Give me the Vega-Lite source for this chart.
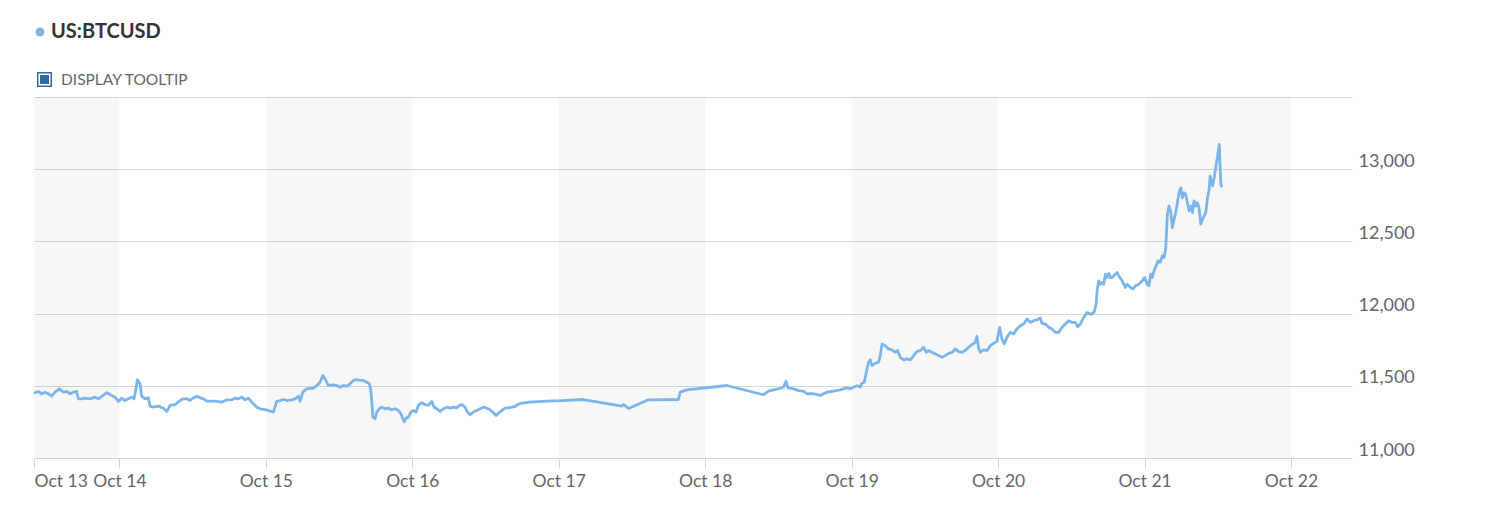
{
  "$schema": "https://vega.github.io/schema/vega-lite/v6.json",
  "width": 1318,
  "height": 361,
  "autosize": {"type": "none"},
  "padding": {"left": 34, "top": 97, "right": 133, "bottom": 59},
  "background": "white",
  "config": {"view": {"stroke": null}, "font": "Lato"},
  "datasets": {
    "bands": [
      {"start": "2020-10-13T10:00", "end": "2020-10-14T00:00"},
      {"start": "2020-10-15T00:00", "end": "2020-10-16T00:00"},
      {"start": "2020-10-17T00:00", "end": "2020-10-18T00:00"},
      {"start": "2020-10-19T00:00", "end": "2020-10-20T00:00"},
      {"start": "2020-10-21T00:00", "end": "2020-10-22T00:00"}
    ],
    "btc": [
      {"time": "2020-10-13T10:10", "price": 11452},
      {"time": "2020-10-13T10:42", "price": 11461},
      {"time": "2020-10-13T11:16", "price": 11445},
      {"time": "2020-10-13T11:48", "price": 11456},
      {"time": "2020-10-13T12:21", "price": 11445},
      {"time": "2020-10-13T12:54", "price": 11428},
      {"time": "2020-10-13T13:27", "price": 11456},
      {"time": "2020-10-13T14:09", "price": 11479},
      {"time": "2020-10-13T14:48", "price": 11456},
      {"time": "2020-10-13T15:22", "price": 11461},
      {"time": "2020-10-13T15:54", "price": 11445},
      {"time": "2020-10-13T16:27", "price": 11456},
      {"time": "2020-10-13T17:00", "price": 11461},
      {"time": "2020-10-13T17:16", "price": 11410},
      {"time": "2020-10-13T17:49", "price": 11410},
      {"time": "2020-10-13T18:22", "price": 11414},
      {"time": "2020-10-13T19:11", "price": 11410},
      {"time": "2020-10-13T20:00", "price": 11421},
      {"time": "2020-10-13T20:32", "price": 11410},
      {"time": "2020-10-13T21:06", "price": 11426},
      {"time": "2020-10-13T21:55", "price": 11452},
      {"time": "2020-10-13T22:44", "price": 11433},
      {"time": "2020-10-13T23:17", "price": 11421},
      {"time": "2020-10-13T23:49", "price": 11392},
      {"time": "2020-10-14T00:23", "price": 11414},
      {"time": "2020-10-14T00:55", "price": 11398},
      {"time": "2020-10-14T01:28", "price": 11410},
      {"time": "2020-10-14T02:01", "price": 11421},
      {"time": "2020-10-14T02:24", "price": 11410},
      {"time": "2020-10-14T02:43", "price": 11479},
      {"time": "2020-10-14T02:56", "price": 11543},
      {"time": "2020-10-14T03:23", "price": 11514},
      {"time": "2020-10-14T03:39", "price": 11428},
      {"time": "2020-10-14T04:12", "price": 11410},
      {"time": "2020-10-14T04:44", "price": 11417},
      {"time": "2020-10-14T05:01", "price": 11359},
      {"time": "2020-10-14T05:34", "price": 11352},
      {"time": "2020-10-14T06:23", "price": 11359},
      {"time": "2020-10-14T07:12", "price": 11345},
      {"time": "2020-10-14T07:46", "price": 11322},
      {"time": "2020-10-14T08:18", "price": 11364},
      {"time": "2020-10-14T09:07", "price": 11369},
      {"time": "2020-10-14T09:56", "price": 11398},
      {"time": "2020-10-14T10:29", "price": 11410},
      {"time": "2020-10-14T11:03", "price": 11410},
      {"time": "2020-10-14T11:35", "price": 11398},
      {"time": "2020-10-14T12:08", "price": 11417},
      {"time": "2020-10-14T12:41", "price": 11428},
      {"time": "2020-10-14T13:13", "price": 11417},
      {"time": "2020-10-14T13:46", "price": 11410},
      {"time": "2020-10-14T14:19", "price": 11394},
      {"time": "2020-10-14T15:08", "price": 11394},
      {"time": "2020-10-14T15:57", "price": 11392},
      {"time": "2020-10-14T16:46", "price": 11387},
      {"time": "2020-10-14T17:36", "price": 11403},
      {"time": "2020-10-14T18:25", "price": 11403},
      {"time": "2020-10-14T18:58", "price": 11414},
      {"time": "2020-10-14T19:30", "price": 11410},
      {"time": "2020-10-14T20:03", "price": 11421},
      {"time": "2020-10-14T20:35", "price": 11403},
      {"time": "2020-10-14T21:08", "price": 11414},
      {"time": "2020-10-14T21:41", "price": 11387},
      {"time": "2020-10-14T22:31", "price": 11352},
      {"time": "2020-10-14T23:03", "price": 11341},
      {"time": "2020-10-14T23:36", "price": 11336},
      {"time": "2020-10-15T00:25", "price": 11329},
      {"time": "2020-10-15T01:14", "price": 11318},
      {"time": "2020-10-15T01:47", "price": 11392},
      {"time": "2020-10-15T02:20", "price": 11398},
      {"time": "2020-10-15T02:52", "price": 11405},
      {"time": "2020-10-15T03:26", "price": 11398},
      {"time": "2020-10-15T04:15", "price": 11403},
      {"time": "2020-10-15T04:47", "price": 11410},
      {"time": "2020-10-15T05:20", "price": 11428},
      {"time": "2020-10-15T05:36", "price": 11392},
      {"time": "2020-10-15T06:03", "price": 11456},
      {"time": "2020-10-15T06:42", "price": 11479},
      {"time": "2020-10-15T07:15", "price": 11483},
      {"time": "2020-10-15T07:47", "price": 11483},
      {"time": "2020-10-15T08:21", "price": 11502},
      {"time": "2020-10-15T08:53", "price": 11525},
      {"time": "2020-10-15T09:20", "price": 11571},
      {"time": "2020-10-15T09:42", "price": 11548},
      {"time": "2020-10-15T10:15", "price": 11502},
      {"time": "2020-10-15T10:32", "price": 11505},
      {"time": "2020-10-15T11:04", "price": 11507},
      {"time": "2020-10-15T11:37", "price": 11502},
      {"time": "2020-10-15T12:10", "price": 11490},
      {"time": "2020-10-15T12:42", "price": 11502},
      {"time": "2020-10-15T13:16", "price": 11497},
      {"time": "2020-10-15T13:48", "price": 11514},
      {"time": "2020-10-15T14:21", "price": 11537},
      {"time": "2020-10-15T14:54", "price": 11543},
      {"time": "2020-10-15T15:27", "price": 11537},
      {"time": "2020-10-15T15:59", "price": 11537},
      {"time": "2020-10-15T16:33", "price": 11525},
      {"time": "2020-10-15T16:58", "price": 11514},
      {"time": "2020-10-15T17:12", "price": 11467},
      {"time": "2020-10-15T17:22", "price": 11387},
      {"time": "2020-10-15T17:32", "price": 11283},
      {"time": "2020-10-15T17:54", "price": 11272},
      {"time": "2020-10-15T18:11", "price": 11318},
      {"time": "2020-10-15T18:36", "price": 11341},
      {"time": "2020-10-15T19:00", "price": 11352},
      {"time": "2020-10-15T19:32", "price": 11341},
      {"time": "2020-10-15T20:05", "price": 11345},
      {"time": "2020-10-15T20:38", "price": 11334},
      {"time": "2020-10-15T21:11", "price": 11341},
      {"time": "2020-10-15T21:43", "price": 11329},
      {"time": "2020-10-15T22:07", "price": 11307},
      {"time": "2020-10-15T22:27", "price": 11272},
      {"time": "2020-10-15T22:40", "price": 11249},
      {"time": "2020-10-15T22:59", "price": 11276},
      {"time": "2020-10-15T23:22", "price": 11283},
      {"time": "2020-10-15T23:46", "price": 11318},
      {"time": "2020-10-16T00:11", "price": 11329},
      {"time": "2020-10-16T00:37", "price": 11318},
      {"time": "2020-10-16T01:00", "price": 11364},
      {"time": "2020-10-16T01:33", "price": 11383},
      {"time": "2020-10-16T02:06", "price": 11369},
      {"time": "2020-10-16T02:38", "price": 11364},
      {"time": "2020-10-16T03:12", "price": 11392},
      {"time": "2020-10-16T03:34", "price": 11352},
      {"time": "2020-10-16T04:01", "price": 11341},
      {"time": "2020-10-16T04:33", "price": 11322},
      {"time": "2020-10-16T05:06", "price": 11341},
      {"time": "2020-10-16T05:39", "price": 11352},
      {"time": "2020-10-16T06:12", "price": 11345},
      {"time": "2020-10-16T06:44", "price": 11352},
      {"time": "2020-10-16T07:18", "price": 11348},
      {"time": "2020-10-16T07:43", "price": 11364},
      {"time": "2020-10-16T08:07", "price": 11369},
      {"time": "2020-10-16T08:39", "price": 11352},
      {"time": "2020-10-16T09:02", "price": 11318},
      {"time": "2020-10-16T09:28", "price": 11300},
      {"time": "2020-10-16T10:01", "price": 11318},
      {"time": "2020-10-16T10:34", "price": 11329},
      {"time": "2020-10-16T11:07", "price": 11341},
      {"time": "2020-10-16T11:39", "price": 11352},
      {"time": "2020-10-16T12:13", "price": 11345},
      {"time": "2020-10-16T12:45", "price": 11334},
      {"time": "2020-10-16T13:18", "price": 11313},
      {"time": "2020-10-16T13:44", "price": 11295},
      {"time": "2020-10-16T14:07", "price": 11311},
      {"time": "2020-10-16T14:40", "price": 11329},
      {"time": "2020-10-16T15:13", "price": 11345},
      {"time": "2020-10-16T15:45", "price": 11348},
      {"time": "2020-10-16T16:19", "price": 11352},
      {"time": "2020-10-16T16:51", "price": 11357},
      {"time": "2020-10-16T17:08", "price": 11369},
      {"time": "2020-10-16T17:57", "price": 11380},
      {"time": "2020-10-16T19:19", "price": 11387},
      {"time": "2020-10-16T22:03", "price": 11394},
      {"time": "2020-10-17T00:46", "price": 11398},
      {"time": "2020-10-17T04:03", "price": 11405},
      {"time": "2020-10-17T10:21", "price": 11359},
      {"time": "2020-10-17T10:36", "price": 11371},
      {"time": "2020-10-17T11:26", "price": 11343},
      {"time": "2020-10-17T14:42", "price": 11403},
      {"time": "2020-10-17T19:37", "price": 11405},
      {"time": "2020-10-17T19:54", "price": 11456},
      {"time": "2020-10-17T21:00", "price": 11472},
      {"time": "2020-10-18T03:33", "price": 11502},
      {"time": "2020-10-18T09:33", "price": 11438},
      {"time": "2020-10-18T10:22", "price": 11463},
      {"time": "2020-10-18T11:12", "price": 11472},
      {"time": "2020-10-18T12:18", "price": 11483},
      {"time": "2020-10-18T12:50", "price": 11490},
      {"time": "2020-10-18T13:14", "price": 11532},
      {"time": "2020-10-18T13:33", "price": 11486},
      {"time": "2020-10-18T14:29", "price": 11479},
      {"time": "2020-10-18T15:18", "price": 11467},
      {"time": "2020-10-18T16:07", "price": 11463},
      {"time": "2020-10-18T16:40", "price": 11445},
      {"time": "2020-10-18T17:45", "price": 11445},
      {"time": "2020-10-18T18:51", "price": 11433},
      {"time": "2020-10-18T19:24", "price": 11445},
      {"time": "2020-10-18T19:57", "price": 11456},
      {"time": "2020-10-18T21:02", "price": 11463},
      {"time": "2020-10-18T22:08", "price": 11472},
      {"time": "2020-10-18T22:57", "price": 11483},
      {"time": "2020-10-18T23:20", "price": 11485},
      {"time": "2020-10-18T23:46", "price": 11479},
      {"time": "2020-10-19T00:19", "price": 11490},
      {"time": "2020-10-19T00:52", "price": 11500},
      {"time": "2020-10-19T01:25", "price": 11492},
      {"time": "2020-10-19T01:41", "price": 11518},
      {"time": "2020-10-19T02:04", "price": 11525},
      {"time": "2020-10-19T02:24", "price": 11594},
      {"time": "2020-10-19T02:46", "price": 11663},
      {"time": "2020-10-19T03:03", "price": 11680},
      {"time": "2020-10-19T03:20", "price": 11640},
      {"time": "2020-10-19T03:52", "price": 11656},
      {"time": "2020-10-19T04:25", "price": 11663},
      {"time": "2020-10-19T04:42", "price": 11709},
      {"time": "2020-10-19T04:58", "price": 11790},
      {"time": "2020-10-19T05:31", "price": 11778},
      {"time": "2020-10-19T06:03", "price": 11755},
      {"time": "2020-10-19T06:37", "price": 11749},
      {"time": "2020-10-19T07:09", "price": 11732},
      {"time": "2020-10-19T07:32", "price": 11744},
      {"time": "2020-10-19T07:58", "price": 11697},
      {"time": "2020-10-19T08:31", "price": 11680},
      {"time": "2020-10-19T09:05", "price": 11686},
      {"time": "2020-10-19T09:37", "price": 11680},
      {"time": "2020-10-19T10:10", "price": 11709},
      {"time": "2020-10-19T10:43", "price": 11739},
      {"time": "2020-10-19T11:15", "price": 11744},
      {"time": "2020-10-19T11:48", "price": 11767},
      {"time": "2020-10-19T12:15", "price": 11732},
      {"time": "2020-10-19T12:37", "price": 11744},
      {"time": "2020-10-19T13:10", "price": 11732},
      {"time": "2020-10-19T13:43", "price": 11721},
      {"time": "2020-10-19T14:15", "price": 11709},
      {"time": "2020-10-19T14:49", "price": 11697},
      {"time": "2020-10-19T15:21", "price": 11709},
      {"time": "2020-10-19T15:54", "price": 11725},
      {"time": "2020-10-19T16:27", "price": 11732},
      {"time": "2020-10-19T16:59", "price": 11755},
      {"time": "2020-10-19T17:32", "price": 11737},
      {"time": "2020-10-19T18:05", "price": 11732},
      {"time": "2020-10-19T18:37", "price": 11744},
      {"time": "2020-10-19T19:10", "price": 11767},
      {"time": "2020-10-19T19:43", "price": 11785},
      {"time": "2020-10-19T20:16", "price": 11801},
      {"time": "2020-10-19T20:32", "price": 11843},
      {"time": "2020-10-19T20:48", "price": 11762},
      {"time": "2020-10-19T21:05", "price": 11732},
      {"time": "2020-10-19T21:37", "price": 11749},
      {"time": "2020-10-19T22:11", "price": 11744},
      {"time": "2020-10-19T22:43", "price": 11778},
      {"time": "2020-10-19T23:16", "price": 11794},
      {"time": "2020-10-19T23:49", "price": 11808},
      {"time": "2020-10-20T00:15", "price": 11905},
      {"time": "2020-10-20T00:38", "price": 11825},
      {"time": "2020-10-20T01:01", "price": 11790},
      {"time": "2020-10-20T01:27", "price": 11836},
      {"time": "2020-10-20T02:00", "price": 11870},
      {"time": "2020-10-20T02:32", "price": 11859},
      {"time": "2020-10-20T03:06", "price": 11894},
      {"time": "2020-10-20T03:38", "price": 11916},
      {"time": "2020-10-20T04:11", "price": 11928},
      {"time": "2020-10-20T04:45", "price": 11963},
      {"time": "2020-10-20T05:17", "price": 11939},
      {"time": "2020-10-20T05:49", "price": 11951},
      {"time": "2020-10-20T06:23", "price": 11956},
      {"time": "2020-10-20T06:55", "price": 11970},
      {"time": "2020-10-20T07:12", "price": 11932},
      {"time": "2020-10-20T07:44", "price": 11928},
      {"time": "2020-10-20T08:17", "price": 11905},
      {"time": "2020-10-20T08:50", "price": 11894},
      {"time": "2020-10-20T09:23", "price": 11870},
      {"time": "2020-10-20T09:56", "price": 11870},
      {"time": "2020-10-20T10:29", "price": 11905},
      {"time": "2020-10-20T11:01", "price": 11928},
      {"time": "2020-10-20T11:34", "price": 11951},
      {"time": "2020-10-20T12:07", "price": 11939},
      {"time": "2020-10-20T12:40", "price": 11939},
      {"time": "2020-10-20T13:03", "price": 11909},
      {"time": "2020-10-20T13:29", "price": 11928},
      {"time": "2020-10-20T14:02", "price": 11974},
      {"time": "2020-10-20T14:35", "price": 12008},
      {"time": "2020-10-20T15:08", "price": 11997},
      {"time": "2020-10-20T15:25", "price": 11997},
      {"time": "2020-10-20T15:47", "price": 12015},
      {"time": "2020-10-20T16:04", "price": 12066},
      {"time": "2020-10-20T16:14", "price": 12160},
      {"time": "2020-10-20T16:29", "price": 12227},
      {"time": "2020-10-20T16:46", "price": 12204},
      {"time": "2020-10-20T17:03", "price": 12215},
      {"time": "2020-10-20T17:18", "price": 12204},
      {"time": "2020-10-20T17:35", "price": 12273},
      {"time": "2020-10-20T17:52", "price": 12250},
      {"time": "2020-10-20T18:08", "price": 12278},
      {"time": "2020-10-20T18:24", "price": 12250},
      {"time": "2020-10-20T18:41", "price": 12250},
      {"time": "2020-10-20T18:57", "price": 12262},
      {"time": "2020-10-20T19:31", "price": 12285},
      {"time": "2020-10-20T19:46", "price": 12262},
      {"time": "2020-10-20T20:20", "price": 12227},
      {"time": "2020-10-20T20:52", "price": 12181},
      {"time": "2020-10-20T21:09", "price": 12204},
      {"time": "2020-10-20T21:42", "price": 12181},
      {"time": "2020-10-20T22:08", "price": 12170},
      {"time": "2020-10-20T22:31", "price": 12193},
      {"time": "2020-10-20T23:04", "price": 12204},
      {"time": "2020-10-20T23:37", "price": 12227},
      {"time": "2020-10-21T00:00", "price": 12250},
      {"time": "2020-10-21T00:27", "price": 12204},
      {"time": "2020-10-21T00:43", "price": 12193},
      {"time": "2020-10-21T01:00", "price": 12273},
      {"time": "2020-10-21T01:16", "price": 12250},
      {"time": "2020-10-21T01:33", "price": 12296},
      {"time": "2020-10-21T01:50", "price": 12324},
      {"time": "2020-10-21T02:12", "price": 12365},
      {"time": "2020-10-21T02:32", "price": 12354},
      {"time": "2020-10-21T02:56", "price": 12400},
      {"time": "2020-10-21T03:12", "price": 12388},
      {"time": "2020-10-21T03:28", "price": 12446},
      {"time": "2020-10-21T03:38", "price": 12595},
      {"time": "2020-10-21T03:45", "price": 12688},
      {"time": "2020-10-21T04:01", "price": 12745},
      {"time": "2020-10-21T04:17", "price": 12711},
      {"time": "2020-10-21T04:34", "price": 12595},
      {"time": "2020-10-21T04:50", "price": 12653},
      {"time": "2020-10-21T05:06", "price": 12699},
      {"time": "2020-10-21T05:23", "price": 12768},
      {"time": "2020-10-21T05:39", "price": 12837},
      {"time": "2020-10-21T05:56", "price": 12871},
      {"time": "2020-10-21T06:12", "price": 12802},
      {"time": "2020-10-21T06:29", "price": 12837},
      {"time": "2020-10-21T06:45", "price": 12826},
      {"time": "2020-10-21T07:02", "price": 12768},
      {"time": "2020-10-21T07:18", "price": 12711},
      {"time": "2020-10-21T07:34", "price": 12745},
      {"time": "2020-10-21T07:51", "price": 12699},
      {"time": "2020-10-21T08:07", "price": 12780},
      {"time": "2020-10-21T08:24", "price": 12745},
      {"time": "2020-10-21T08:40", "price": 12768},
      {"time": "2020-10-21T08:56", "price": 12733},
      {"time": "2020-10-21T09:13", "price": 12619},
      {"time": "2020-10-21T09:30", "price": 12653},
      {"time": "2020-10-21T09:46", "price": 12676},
      {"time": "2020-10-21T10:02", "price": 12699},
      {"time": "2020-10-21T10:19", "price": 12802},
      {"time": "2020-10-21T10:35", "price": 12860},
      {"time": "2020-10-21T10:45", "price": 12952},
      {"time": "2020-10-21T10:59", "price": 12918},
      {"time": "2020-10-21T11:09", "price": 12883},
      {"time": "2020-10-21T11:25", "price": 12941},
      {"time": "2020-10-21T11:42", "price": 13021},
      {"time": "2020-10-21T11:58", "price": 13090},
      {"time": "2020-10-21T12:15", "price": 13171},
      {"time": "2020-10-21T12:25", "price": 12987},
      {"time": "2020-10-21T12:31", "price": 12895},
      {"time": "2020-10-21T12:38", "price": 12883}
    ]
  },
  "layer": [
    {
      "data": {"name": "bands"},
      "mark": {"type": "rect", "fill": "#000000", "fillOpacity": 0.031},
      "encoding": {
        "x": {
          "field": "start",
          "type": "temporal",
          "scale": {
            "domain": [
              {"year": 2020, "month": 10, "date": 13, "hours": 10},
              {"year": 2020, "month": 10, "date": 22, "hours": 10}
            ],
            "nice": false
          },
          "axis": {
            "title": null,
            "values": [
              {"year": 2020, "month": 10, "date": 13, "hours": 10},
              {"year": 2020, "month": 10, "date": 14},
              {"year": 2020, "month": 10, "date": 15},
              {"year": 2020, "month": 10, "date": 16},
              {"year": 2020, "month": 10, "date": 17},
              {"year": 2020, "month": 10, "date": 18},
              {"year": 2020, "month": 10, "date": 19},
              {"year": 2020, "month": 10, "date": 20},
              {"year": 2020, "month": 10, "date": 21},
              {"year": 2020, "month": 10, "date": 22}
            ],
            "format": "%b %d",
            "labelFlush": true,
            "labelOverlap": false,
            "grid": false,
            "domainColor": "#ccd6eb",
            "tickColor": "#ccd6eb",
            "tickSize": 10,
            "labelPadding": 4,
            "labelFont": "Lato",
            "labelFontSize": 17.5,
            "labelColor": "#666666"
          }
        },
        "x2": {"field": "end"}
      }
    },
    {
      "data": {"name": "btc"},
      "mark": {"type": "line", "color": "#7cb5ec", "strokeWidth": 2.8, "strokeJoin": "round", "strokeCap": "round"},
      "encoding": {
        "x": {"field": "time", "type": "temporal"},
        "y": {
          "field": "price",
          "type": "quantitative",
          "scale": {"domain": [11000, 13500], "nice": false, "zero": false},
          "axis": {
            "orient": "right",
            "title": null,
            "values": [11000, 11500, 12000, 12500, 13000, 13500],
            "format": ",.0f",
            "labelExpr": "datum.value == 13500 ? '' : datum.label",
            "domain": false,
            "ticks": false,
            "grid": true,
            "gridColor": "#d8d8d8",
            "gridWidth": 1,
            "labelPadding": 6,
            "labelAlign": "left",
            "labelBaseline": "alphabetic",
            "labelOffset": -3,
            "labelFont": "Lato",
            "labelFontSize": 18,
            "labelColor": "#666666"
          }
        }
      }
    },
    {
      "data": {"values": [{"series": "US:BTCUSD"}]},
      "mark": {"type": "point", "filled": true, "opacity": 0},
      "encoding": {
        "color": {
          "field": "series",
          "type": "nominal",
          "scale": {"domain": ["US:BTCUSD"], "range": ["#7cb5ec"]},
          "legend": {
            "orient": "none",
            "legendX": -4,
            "legendY": -75,
            "title": null,
            "padding": 0,
            "symbolType": "circle",
            "symbolSize": 81,
            "labelFont": "Lato",
            "labelFontSize": 20,
            "labelFontWeight": "bold",
            "labelColor": "#333333",
            "labelOffset": 1,
            "encode": {"symbols": {"update": {"opacity": {"value": 1}, "fill": {"value": "#7cb5ec"}, "strokeWidth": {"value": 0}}}}
          }
        }
      }
    },
    {
      "data": {"values": [{"option": "DISPLAY TOOLTIP"}]},
      "mark": {"type": "point", "filled": true, "opacity": 0, "color": "#336a9a"},
      "encoding": {
        "shape": {
          "field": "option",
          "type": "nominal",
          "scale": {"domain": ["DISPLAY TOOLTIP"], "range": ["M-1,-1H1V1H-1Z M-0.8,-0.8V0.8H0.8V-0.8Z M-0.6,-0.6H0.6V0.6H-0.6Z"]},
          "legend": {
            "orient": "none",
            "legendX": 2,
            "legendY": -26,
            "title": null,
            "padding": 0,
            "symbolSize": 225,
            "labelFont": "Lato",
            "labelFontSize": 15.5,
            "labelColor": "#666666",
            "labelOffset": 8,
            "encode": {"symbols": {"update": {"opacity": {"value": 1}, "fill": {"value": "#336a9a"}, "strokeWidth": {"value": 0}}}}
          }
        }
      }
    }
  ]
}
